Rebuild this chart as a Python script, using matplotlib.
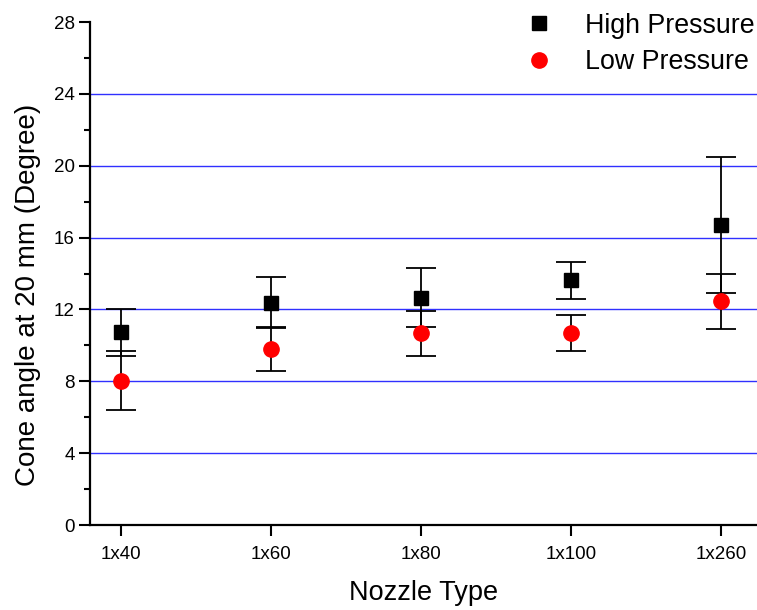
import matplotlib
matplotlib.use("Agg")
import matplotlib.pyplot as plt
from matplotlib.ticker import MultipleLocator

plt.rcParams['font.family'] = ['Liberation Sans', 'DejaVu Sans']

categories = ["1x40", "1x60", "1x80", "1x100", "1x260"]
high_vals = [10.73, 12.38, 12.64, 13.62, 16.70]
high_err = [1.30, 1.43, 1.64, 1.03, 3.80]
low_vals = [8.03, 9.80, 10.67, 10.69, 12.45]
low_err = [1.65, 1.20, 1.24, 1.00, 1.55]

fig = plt.figure(figsize=(7.57, 6.10), dpi=100)
ax = fig.add_axes([90/757, 85/610, 1 - 90/757, (525-22)/610])

x = list(range(1, len(categories) + 1))

for yv in [4, 8, 12, 16, 20, 24]:
    ax.axhline(yv, color='#3030ff', lw=1.0, zorder=0)

ax.errorbar(x, high_vals, yerr=high_err, fmt='s', color='black', ms=10,
            ecolor='black', elinewidth=1.3, capsize=10.5, capthick=1.3,
            label='High Pressure', zorder=3)
ax.errorbar(x, low_vals, yerr=low_err, fmt='o', mfc='red', mec='red', ms=11,
            ecolor='black', elinewidth=1.3, capsize=10.5, capthick=1.3,
            label='Low Pressure', zorder=4)

ax.set_xlim(0.793, 5.24)
ax.set_ylim(0, 28)
ax.set_xticks(x)
ax.set_xticklabels(categories)
ax.yaxis.set_major_locator(MultipleLocator(4))
ax.yaxis.set_minor_locator(MultipleLocator(2))

for s in ['top', 'right']:
    ax.spines[s].set_visible(False)
for s in ['left', 'bottom']:
    ax.spines[s].set_linewidth(1.6)

ax.tick_params(axis='both', which='major', direction='out', length=8, width=1.5,
               labelsize=13.5)
ax.tick_params(axis='y', which='minor', direction='out', length=4.2, width=1.5)
ax.tick_params(axis='x', pad=7)
ax.tick_params(axis='y', pad=3)

ax.set_xlabel('Nozzle Type', fontsize=19.5, labelpad=12)
ax.set_ylabel('Cone angle at 20 mm (Degree)', fontsize=20)
ax.yaxis.set_label_coords(-0.073, 0.458)

handles, labels = ax.get_legend_handles_labels()
handles = [h[0] for h in handles]
leg = ax.legend(handles, labels, loc='upper right', frameon=False, fontsize=19.3,
                bbox_to_anchor=(1.012, 1.04), handletextpad=0.72, labelspacing=0.4,
                borderaxespad=0.0)

fig.savefig('out.png', dpi=100)
